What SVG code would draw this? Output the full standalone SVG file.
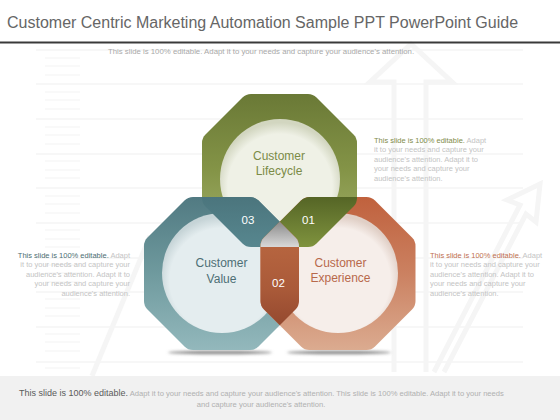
<svg xmlns="http://www.w3.org/2000/svg" xmlns:xlink="http://www.w3.org/1999/xlink" width="560" height="420" viewBox="0 0 560 420">
<style>
text{font-family:"Liberation Sans",Arial,sans-serif}
.bg{stroke:#efefef;stroke-width:1;fill:none}
.tick{stroke:#f3f3f3;stroke-width:1.2;fill:none}
.deco{stroke:#f5f5f5;stroke-width:5;fill:none;stroke-linejoin:miter}
.lbl{font-size:12px;text-anchor:middle}
.num{font-size:11.5px;fill:#ffffff;text-anchor:middle}
.side{font-size:7.5px;fill:#c4c4c4}
</style>
<defs>
<path id="oct" d="M -28.5,-76.5 L 28.5,-76.5 Q 33.5,-76.5 37,-73 L 74,-36 Q 77.5,-32.5 77.5,-27.5 L 77.5,27.5 Q 77.5,32.5 74,36 L 37,73 Q 33.5,76.5 28.5,76.5 L -28.5,76.5 Q -33.5,76.5 -37,73 L -74,36 Q -77.5,32.5 -77.5,27.5 L -77.5,-27.5 Q -77.5,-32.5 -74,-36 L -37,-73 Q -33.5,-76.5 -28.5,-76.5 Z"/>
<linearGradient id="gTop" x1="0" y1="0" x2="0" y2="1"><stop offset="0" stop-color="#6a7936"/><stop offset="0.5" stop-color="#849447"/><stop offset="1" stop-color="#a6b36e"/></linearGradient>
<linearGradient id="gLeft" x1="0" y1="0" x2="0" y2="1"><stop offset="0" stop-color="#517a82"/><stop offset="0.5" stop-color="#6f9a9e"/><stop offset="1" stop-color="#93b8bc"/></linearGradient>
<linearGradient id="gRight" x1="0" y1="0" x2="0" y2="1"><stop offset="0" stop-color="#c0613d"/><stop offset="0.5" stop-color="#cb8161"/><stop offset="1" stop-color="#dbab90"/></linearGradient>
<linearGradient id="g03" x1="0" y1="0" x2="0" y2="1"><stop offset="0" stop-color="#4b757d"/><stop offset="0.35" stop-color="#588890"/></linearGradient>
<linearGradient id="g01" x1="0" y1="0" x2="0" y2="1"><stop offset="0" stop-color="#556526"/><stop offset="0.34" stop-color="#81953f"/></linearGradient>
<linearGradient id="g02" x1="0" y1="0" x2="0" y2="1"><stop offset="0.2" stop-color="#bb6942"/><stop offset="0.6" stop-color="#aa5a39"/><stop offset="0.84" stop-color="#94492f"/></linearGradient>
<linearGradient id="gGray" x1="0" y1="0" x2="0" y2="1"><stop offset="0.17" stop-color="#8f8f8f"/><stop offset="0.33" stop-color="#dadada"/></linearGradient>
<radialGradient id="cTopF" cx="0.5" cy="0.56" r="0.53"><stop offset="0.82" stop-color="#eff1e6"/><stop offset="1" stop-color="#d2d6c0"/></radialGradient>
<radialGradient id="cLeftF" cx="0.5" cy="0.56" r="0.53"><stop offset="0.82" stop-color="#e4edef"/><stop offset="1" stop-color="#c6d4d7"/></radialGradient>
<radialGradient id="cRightF" cx="0.5" cy="0.56" r="0.53"><stop offset="0.82" stop-color="#f6eeea"/><stop offset="1" stop-color="#e0cfc6"/></radialGradient>
<clipPath id="clipTop"><use xlink:href="#oct" href="#oct" transform="translate(279.5,170.5)"/></clipPath>
<clipPath id="clipLeft"><use xlink:href="#oct" href="#oct" transform="translate(221.5,273.5)"/></clipPath>
<filter id="blur" x="-20%" y="-200%" width="140%" height="500%"><feGaussianBlur stdDeviation="1.6"/></filter>
</defs>
<rect width="560" height="420" fill="#ffffff"/>
<g id="background">
<path class="bg" d="M36 50H523M36 84H523M36 119H523M36 154H523M36 188H523M36 223H523M36 258H523M36 292H523M36 327H523M36 362H523"/>
<path class="tick" d="M45 58H80M45 66H80M45 75H80M45 92H80M45 100H80M45 109H80M45 127H80M45 135H80M45 144H80M45 161H80M45 170H80M45 178H80M45 196H80M45 204H80M45 213H80M45 230H80M45 239H80M45 247H80M45 265H80M45 273H80M45 282H80M45 299H80M45 308H80M45 316H80M45 334H80M45 342H80M45 351H80M45 368H80"/>
<path class="deco" d="M394 372V82H370L411 44L452 82H426V372"/>
<path class="deco" d="M434 372L520 205L507 200L540 184L536 222L526 214L444 372"/>
<path class="deco" d="M92 376L150 236"/>
</g>
<g id="title">
<text x="7" y="27.5" font-size="16" fill="#666666">Customer Centric Marketing Automation Sample PPT PowerPoint Guide</text>
<rect x="0" y="41.5" width="560" height="2" fill="#3a3a3a"/>
<text x="261" y="53.5" font-size="7.8" fill="#a9a9a9" text-anchor="middle">This slide is 100% editable.  Adapt it to your needs and capture your audience's attention.</text>
</g>
<g id="shadows" filter="url(#blur)">
<ellipse cx="220" cy="352.5" rx="52" ry="1.8" fill="#8a8a8a"/>
<ellipse cx="339" cy="352.5" rx="52" ry="1.8" fill="#8a8a8a"/>
</g>
<g id="node-lifecycle">
<use xlink:href="#oct" href="#oct" transform="translate(279.5,170.5)" fill="url(#gTop)"/>
<circle cx="280" cy="179" r="60" fill="url(#cTopF)"/>
<text class="lbl" x="279" y="160" fill="#7b8b46">Customer</text>
<text class="lbl" x="279" y="174.5" fill="#7b8b46">Lifecycle</text>
</g>
<g id="node-value">
<use xlink:href="#oct" href="#oct" transform="translate(221.5,273.5)" fill="url(#gLeft)"/>
<circle cx="222" cy="273" r="60" fill="url(#cLeftF)"/>
<text class="lbl" x="221.5" y="267" fill="#4d6f75">Customer</text>
<text class="lbl" x="221.5" y="282.5" fill="#4d6f75">Value</text>
</g>
<g id="node-experience">
<use xlink:href="#oct" href="#oct" transform="translate(338,273.5)" fill="url(#gRight)"/>
<circle cx="338" cy="273" r="60" fill="url(#cRightF)"/>
<text class="lbl" x="340.5" y="267" fill="#b8694b">Customer</text>
<text class="lbl" x="340.5" y="282" fill="#b8694b">Experience</text>
</g>
<g id="overlaps">
<g id="overlap-03" clip-path="url(#clipTop)"><use xlink:href="#oct" href="#oct" transform="translate(221.5,273.5)" fill="url(#g03)"/></g>
<g id="overlap-01" clip-path="url(#clipTop)"><use xlink:href="#oct" href="#oct" transform="translate(338,273.5)" fill="url(#g01)"/></g>
<g id="overlap-02" clip-path="url(#clipLeft)"><use xlink:href="#oct" href="#oct" transform="translate(338,273.5)" fill="url(#g02)"/></g>
<g id="overlap-center" clip-path="url(#clipTop)"><g clip-path="url(#clipLeft)"><use xlink:href="#oct" href="#oct" transform="translate(338,273.5)" fill="url(#gGray)"/></g></g>
<text class="num" x="248" y="224">03</text>
<text class="num" x="308.5" y="224">01</text>
<text class="num" x="278.5" y="287">02</text>
</g>
<g id="note-top">
<text class="side" x="374" y="143"><tspan fill="#7f8c4a">This slide is 100% editable.</tspan> Adapt</text>
<text class="side" x="374" y="152.4">it to your needs and capture your</text>
<text class="side" x="374" y="161.8">audience's attention. Adapt it to</text>
<text class="side" x="374" y="171.2">your needs and capture your</text>
<text class="side" x="374" y="180.6">audience's attention.</text>
</g>
<g id="note-left" text-anchor="end">
<text class="side" x="130" y="258"><tspan fill="#4d6e73">This slide is 100% editable.</tspan> Adapt</text>
<text class="side" x="130" y="267.4">it to your needs and capture your</text>
<text class="side" x="130" y="276.8">audience's attention. Adapt it to</text>
<text class="side" x="130" y="286.2">your needs and capture your</text>
<text class="side" x="130" y="295.6">audience's attention.</text>
</g>
<g id="note-right">
<text class="side" x="430" y="258"><tspan fill="#c0704f">This slide is 100% editable.</tspan> Adapt</text>
<text class="side" x="430" y="267.4">it to your needs and capture your</text>
<text class="side" x="430" y="276.8">audience's attention. Adapt it to</text>
<text class="side" x="430" y="286.2">your needs and capture your</text>
<text class="side" x="430" y="295.6">audience's attention.</text>
</g>
<g id="footer">
<rect x="0" y="376" width="560" height="44" fill="#f1f1f1"/>
<text x="19" y="396" font-size="7.6" fill="#b0b0b0"><tspan font-size="9" fill="#5a5a5a">This slide is 100% editable.</tspan> Adapt it to your needs and capture your audience's attention. This slide is 100% editable. Adapt it to your needs</text>
<text x="261" y="406.5" font-size="7.6" fill="#b0b0b0" text-anchor="middle">and capture your audience's attention.</text>
</g>
</svg>
